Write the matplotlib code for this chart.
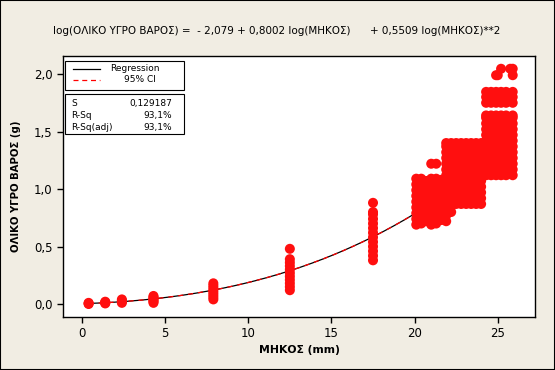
import numpy as np
import matplotlib
matplotlib.use("Agg")
import matplotlib.pyplot as plt
from matplotlib.patches import Rectangle
from matplotlib.lines import Line2D

# fitted model (from the title)
b0, b1, b2 = -2.079, 0.8002, 0.5509
stats_names = ["S", "R-Sq", "R-Sq(adj)"]
stats_values = ["0,129187", "93,1%", "93,1%"]

# small lengths: one column of weights each
small_len = [0.4, 1.4, 2.4, 4.3, 7.9, 12.5, 17.5]
small_w = [
    [0.00, 0.005, 0.01],
    [0.005, 0.01, 0.015, 0.02],
    [0.01, 0.02, 0.03, 0.04],
    [0.01, 0.02, 0.03, 0.04, 0.05, 0.06, 0.07],
    [0.04, 0.06, 0.08, 0.10, 0.12, 0.14, 0.16, 0.18],
    [0.12, 0.15, 0.18, 0.21, 0.24, 0.27, 0.30, 0.33, 0.36, 0.39, 0.48],
    [0.38, 0.42, 0.46, 0.50, 0.54, 0.58, 0.62, 0.66, 0.70, 0.74, 0.78, 0.80, 0.88],
]

# large lengths (20-26 mm), columns
big_len = [20.1, 20.4, 20.7, 21.0, 21.3, 21.6, 21.9, 22.2, 22.5, 22.8,
           23.1, 23.4, 23.7, 24.0, 24.3, 24.6, 24.9, 25.2, 25.5, 25.9]
low_block = [0.87, 0.92, 0.97, 1.02, 1.07, 1.12, 1.17, 1.22, 1.27, 1.32, 1.37, 1.40]
high_block = [1.12, 1.17, 1.22, 1.27, 1.32, 1.37, 1.42, 1.47, 1.52, 1.57, 1.62, 1.64,
              1.75, 1.80, 1.845]
big_w = [
    [0.69, 0.74, 0.79, 0.84, 0.89, 0.94, 0.99, 1.04, 1.09],
    [0.70, 0.75, 0.80, 0.85, 0.90, 0.95, 1.00, 1.05, 1.09],
    [0.72, 0.77, 0.82, 0.87, 0.92, 0.97, 1.02, 1.07],
    [0.69, 0.74, 0.79, 0.84, 0.89, 0.94, 0.99, 1.04, 1.09, 1.22],
    [0.70, 0.75, 0.80, 0.85, 0.90, 0.95, 1.00, 1.05, 1.09, 1.22],
    [0.73, 0.78, 0.83, 0.88, 0.93, 0.98, 1.03, 1.08],
    [0.72, 0.77, 0.82, 0.87, 0.92, 0.97, 1.02, 1.07, 1.12, 1.17, 1.22, 1.27, 1.32, 1.37, 1.40],
    [0.80, 0.85, 0.90, 0.95, 1.00, 1.05, 1.10, 1.15, 1.20, 1.25, 1.30, 1.35, 1.40],
    low_block, low_block, low_block, low_block, low_block, low_block,
    high_block, high_block, high_block + [1.99], high_block + [2.046],
    high_block, high_block + [1.99, 2.046],
]
extra_len = [25.0, 25.75]
extra_w = [1.99, 2.046]

tick_x = [0, 5, 10, 15, 20, 25]
tick_y = [0.0, 0.5, 1.0, 1.5, 2.0]

W, H = 555, 370
bg = "#F1EDE3"
plt.rcParams["font.family"] = ["DejaVu Sans"]


def fx(px):
    return px / W


def fy(py):
    return 1 - py / H


fig = plt.figure(figsize=(W / 100, H / 100), dpi=100, facecolor=bg)
ax = fig.add_axes([fx(63), fy(317), (535 - 63) / W, (317 - 56) / H])

# fitted curve and CI
L = np.linspace(0.4, 26, 300)
lw_ = np.log10(L)
fit = 10 ** (b0 + b1 * lw_ + b2 * lw_ ** 2)
ax.plot(L, fit, color="black", lw=0.9, zorder=2)
ax.plot(L, fit, color="red", lw=0.9, dashes=(4, 4), zorder=2)

xs, ys = [], []
for x, col in zip(small_len + big_len, small_w + big_w):
    xs += [x] * len(col)
    ys += col
xs += extra_len
ys += extra_w
ax.scatter(xs, ys, s=52, color="#FF0F0F", edgecolors="none", zorder=3)

ax.set_xlim(-1.14, 27.24)
ax.set_ylim(-0.113, 2.157)
ax.set_xticks(tick_x)
ax.set_xticklabels([str(t) for t in tick_x])
ax.set_yticks(tick_y)
ax.set_yticklabels([f"{t:.1f}".replace(".", ",") for t in tick_y])
ax.tick_params(direction="out", length=4, width=1, labelsize=8.5, color="black")
for s in ax.spines.values():
    s.set_linewidth(1)
ax.set_xlabel("ΜΗΚΟΣ (mm)", fontsize=7.8, fontweight="bold", labelpad=3)
ax.set_ylabel("ΟΛΙΚΟ ΥΓΡΟ ΒΑΡΟΣ (g)", fontsize=7.3, fontweight="bold", labelpad=9)

fig.text(fx(277), fy(31),
         "log(ΟΛΙΚΟ ΥΓΡΟ ΒΑΡΟΣ) =  - 2,079 + 0,8002 log(ΜΗΚΟΣ)      + 0,5509 log(ΜΗΚΟΣ)**2",
         ha="center", va="center", fontsize=7.5)

# legend box
fig.patches.append(Rectangle((fx(65), fy(90)), 119 / W, 29 / H, transform=fig.transFigure,
                             facecolor="white", edgecolor="black", lw=0.8, zorder=5))
fig.lines.append(Line2D([fx(73), fx(100)], [fy(68.5), fy(68.5)], transform=fig.transFigure,
                        color="black", lw=0.9, zorder=6))
fig.lines.append(Line2D([fx(73), fx(100)], [fy(80), fy(80)], transform=fig.transFigure,
                        color="red", lw=0.9, dashes=(4, 3), zorder=6))
fig.text(fx(110), fy(68.5), "Regression", fontsize=6.5, va="center", zorder=7)
fig.text(fx(124), fy(80), "95% CI", fontsize=6.5, va="center", zorder=7)

# stats box
fig.patches.append(Rectangle((fx(65), fy(134)), 119 / W, 40 / H, transform=fig.transFigure,
                             facecolor="white", edgecolor="black", lw=0.8, zorder=5))
for i, (n, v) in enumerate(zip(stats_names, stats_values)):
    yy = fy(103.5 + 12 * i)
    fig.text(fx(71), yy, n, fontsize=6.5, va="center", zorder=7)
    fig.text(fx(172), yy, v, fontsize=6.5, va="center", ha="right", zorder=7)

# outer frame
fig.patches.append(Rectangle((0, 0), 1, 1, transform=fig.transFigure, fill=False,
                             edgecolor="black", lw=1.5, zorder=10))

fig.savefig("out.png", dpi=100, facecolor=bg)
